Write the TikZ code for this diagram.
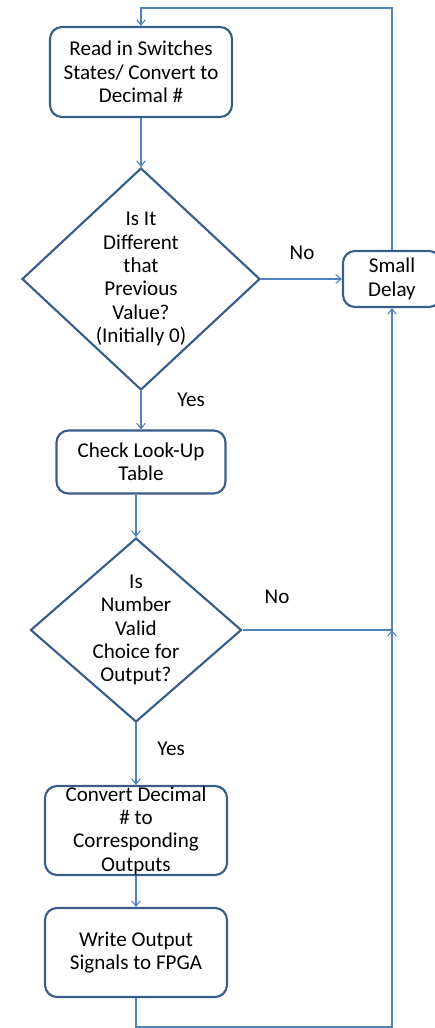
\documentclass[tikz,border=0pt]{standalone}
\usepackage{fontspec}
\setmainfont{Carlito}
\usepackage{xcolor}
\usepackage{tikz}
\usetikzlibrary{arrows.meta, positioning, shapes.geometric}
\definecolor{boxline}{RGB}{56,93,138}
\definecolor{wire}{RGB}{79,129,189}
\tikzset{
    stepbox/.style={draw=boxline, line width=1.6pt, rounded corners=9pt, align=center, inner sep=1pt},
    choice/.style={draw=boxline, diamond, line width=1.6pt, inner sep=0pt},
    wireline/.style={draw=wire, line width=0.8pt},
    wirearrow/.style={wireline, -{Straight Barb[length=4pt, width=6.5pt]}}
}

\begin{document}
\begin{tikzpicture}[x=0.75pt, y=-0.75pt, font=\fontsize{15.8}{17.5}\selectfont]
    \useasboundingbox (0,0) rectangle (435,1028);

    % Le caselle del ciclo principale
    \node[stepbox, minimum width=136.5pt, minimum height=67.5pt] (read) at (141,72) {Read in Switches\\States/ Convert to\\Decimal \#};
    \node[choice, minimum width=178.5pt, minimum height=166.5pt,
          label={[align=center]center:Is It\\Different\\that\\Previous\\Value?\\(Initially 0)}] (diff) at (141,279) {};
    \node[stepbox, minimum width=73.5pt, minimum height=42pt] (delay) at (392,279) {Small\\Delay};
    \node[stepbox, minimum width=126.75pt, minimum height=47.25pt] (look) at (141,462) {Check Look-Up\\Table};
    \node[choice, minimum width=158.25pt, minimum height=138pt,
          label={[align=center]center:Is\\Number\\Valid\\Choice for\\Output?}] (valid) at (136,630) {};
    \node[stepbox, inner sep=0pt, minimum width=136.5pt, minimum height=66.75pt] (conv) at (136,830.5) {Convert Decimal\\\# to\\Corresponding\\Outputs};
    \node[stepbox, minimum width=136.5pt, minimum height=66.75pt] (write) at (136,952.5) {Write Output\\Signals to FPGA};

    % Le etichette Yes / No
    \node (no1) at (302,253) {No};
    \node (yes1) at (191,400) {Yes};
    \node (no2) at (277,597) {No};
    \node (yes2) at (171,749) {Yes};

    % Punti del ritorno
    \coordinate (looptop) at (141,8);
    \coordinate (loopbot) at (392,1027);

    % I collegamenti
    \draw[wirearrow] (read.south) -- (diff.north);
    \draw[wirearrow] (diff.east) -- (delay.west);
    \draw[wirearrow] (diff.south) -- (look.north);
    \draw[wirearrow] (look.south -| valid.north) -- (valid.north);
    \draw[wirearrow] (valid.south) -- (conv.north);
    \draw[wirearrow] (conv.south) -- (write.north);
    \draw[wirearrow] (valid.east) -| (delay.south);
    \draw[wirearrow] (write.south) |- (loopbot) -- (valid.east -| delay.south);
    \draw[wirearrow] (delay.north) |- (looptop) -- (read.north);

\end{tikzpicture}
\end{document}
